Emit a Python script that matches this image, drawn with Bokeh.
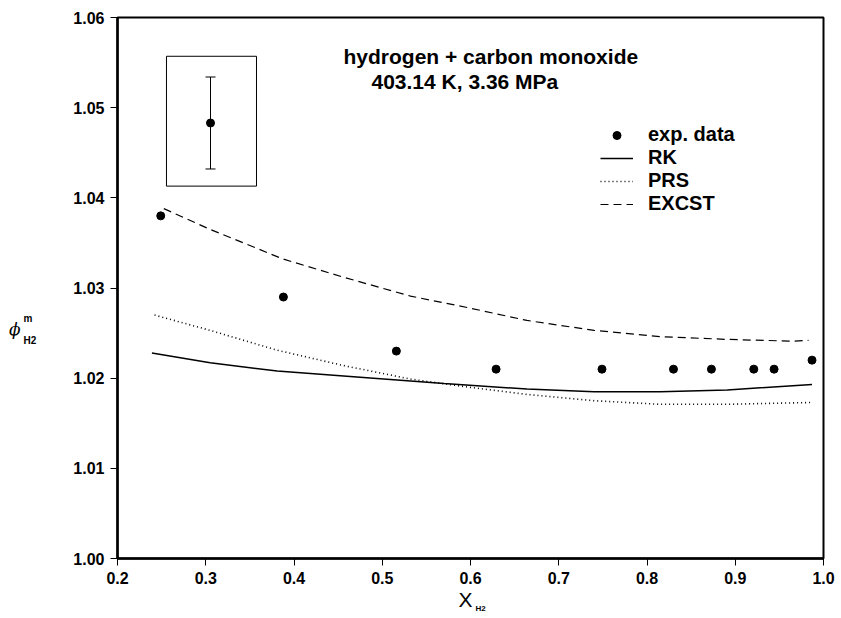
from bokeh.plotting import figure
from bokeh.models import (Range1d, FixedTicker, Label, Legend, LegendItem,
                          Whisker, TeeHead, ColumnDataSource)
from bokeh.embed import file_html
from bokeh.resources import INLINE

# ---- data -----------------------------------------------------------------
x_ticks = [0.2, 0.3, 0.4, 0.5, 0.6, 0.7, 0.8, 0.9, 1.0]
x_tick_labels = ["0.2", "0.3", "0.4", "0.5", "0.6", "0.7", "0.8", "0.9", "1.0"]
y_ticks = [1.00, 1.01, 1.02, 1.03, 1.04, 1.05, 1.06]
y_tick_labels = ["1.00", "1.01", "1.02", "1.03", "1.04", "1.05", "1.06"]

exp_x = [0.249, 0.388, 0.516, 0.629, 0.749, 0.830, 0.873, 0.921, 0.944, 0.987]
exp_y = [1.038, 1.029, 1.023, 1.021, 1.021, 1.021, 1.021, 1.021, 1.021, 1.022]

rk_x = [0.239, 0.305, 0.381, 0.475, 0.570, 0.664, 0.740, 0.815, 0.891, 0.987]
rk_y = [1.0228, 1.0217, 1.0208, 1.0201, 1.0194, 1.0188, 1.0185, 1.0185, 1.0187, 1.0193]

prs_x = [0.242, 0.305, 0.381, 0.456, 0.532, 0.598, 0.664, 0.740, 0.815, 0.891, 0.985]
prs_y = [1.0270, 1.0253, 1.0231, 1.0214, 1.0199, 1.0190, 1.0182, 1.0175, 1.0171, 1.0171, 1.0173]

excst_x = [0.2525, 0.305, 0.388, 0.456, 0.532, 0.598, 0.664, 0.740, 0.815, 0.891, 0.966, 0.983]
excst_y = [1.0388, 1.0365, 1.0332, 1.0312, 1.0291, 1.0278, 1.0264, 1.0253, 1.0246, 1.0243, 1.0241, 1.0242]

series_labels = ["exp. data", "RK", "PRS", "EXCST"]

# inset: typical experimental uncertainty
err_x = [0.3054]
err_center = [1.0483]
err_half = [0.0051]
inset_left, inset_right = 0.2555, 0.3575
inset_bottom, inset_top = 1.0413, 1.0557

title_line1 = "hydrogen + carbon monoxide"
title_line2 = "403.14 K,  3.36 MPa"

FONT = "Liberation Sans"

# ---- figure ---------------------------------------------------------------
p = figure(width=838, height=615, output_backend="svg", toolbar_location=None,
           x_range=Range1d(0.2, 1.0), y_range=Range1d(1.00, 1.06),
           min_border_left=117, min_border_right=15, min_border_top=17,
           min_border_bottom=57)
p.grid.visible = False
p.background_fill_color = "white"
p.border_fill_color = "white"
p.outline_line_color = "black"
p.outline_line_width = 2
p.outline_line_alpha = 1

for ax in (p.xaxis[0], p.yaxis[0]):
    ax.axis_line_color = "black"
    ax.axis_line_width = 2.5
    ax.major_tick_line_color = "black"
    ax.major_tick_line_width = 1
    ax.major_tick_in = 0
    ax.major_tick_out = 7
    ax.minor_tick_line_color = None
    ax.major_label_text_font = FONT
    ax.major_label_text_font_style = "bold"
    ax.major_label_text_font_size = "16px"
    ax.major_label_text_color = "black"

p.xaxis.ticker = FixedTicker(ticks=x_ticks)
p.xaxis.major_label_overrides = dict(zip(x_ticks, x_tick_labels))
p.xaxis.major_label_standoff = 6
p.yaxis.ticker = FixedTicker(ticks=y_ticks)
p.yaxis.major_label_overrides = dict(zip(y_ticks, y_tick_labels))
p.yaxis.major_label_standoff = 6

# ---- series -----------------------------------------------------------------
r_rk = p.line(rk_x, rk_y, line_color="black", line_width=1.5)
r_prs = p.line(prs_x, prs_y, line_color="black", line_width=1.6, line_dash="1 3")
r_ex = p.line(excst_x, excst_y, line_color="black", line_width=1.2, line_dash="8 5")
r_exp = p.scatter(exp_x, exp_y, size=8, fill_color="black", line_color="black")

legend = Legend(
    items=[LegendItem(label=series_labels[0], renderers=[r_exp]),
           LegendItem(label=series_labels[1], renderers=[r_rk]),
           LegendItem(label=series_labels[2], renderers=[r_prs]),
           LegendItem(label=series_labels[3], renderers=[r_ex])],
    location=(483, 343), orientation="vertical",
    border_line_color=None, background_fill_alpha=0,
    padding=0, margin=0, spacing=0,
    glyph_width=33, glyph_height=20, label_height=20, label_standoff=15,
    label_text_font=FONT, label_text_font_style="bold",
    label_text_font_size="20px", label_text_color="black")
p.add_layout(legend)

# ---- inset with error bar -----------------------------------------------------
p.quad(left=[inset_left], right=[inset_right], bottom=[inset_bottom], top=[inset_top],
       fill_color=None, line_color="black", line_width=1)
err_src = ColumnDataSource(dict(
    x=err_x,
    lo=[c - h for c, h in zip(err_center, err_half)],
    hi=[c + h for c, h in zip(err_center, err_half)]))
p.add_layout(Whisker(source=err_src, base="x", lower="lo", upper="hi",
                     line_color="black", line_width=1,
                     upper_head=TeeHead(size=10, line_color="black", line_width=1),
                     lower_head=TeeHead(size=10, line_color="black", line_width=1)))
p.scatter(err_x, err_center, size=8, fill_color="black", line_color="black")

# ---- texts ----------------------------------------------------------------------
p.add_layout(Label(x=0.4561, y=1.05573, text=title_line1, text_font=FONT,
                   text_font_style="bold", text_font_size="21px", text_color="black",
                   text_align="left", text_baseline="alphabetic"))
p.add_layout(Label(x=0.4878, y=1.05290, text=title_line2, text_font=FONT,
                   text_font_style="bold", text_font_size="21px", text_color="black",
                   text_align="left", text_baseline="alphabetic"))

# axis titles live in the left side panel so that they are not clipped to the frame
side_labels = [
    # y axis title: phi^m_H2
    Label(x=0.0770, y=1.0255, text="\u03d5", text_font="DejaVu Serif",
          text_font_style="italic", text_font_size="17px"),
    Label(x=0.0935, y=1.0266, text="m", text_font=FONT,
          text_font_style="bold", text_font_size="10px"),
    Label(x=0.0935, y=1.0242, text="H2", text_font=FONT,
          text_font_style="bold", text_font_size="10px"),
    # x axis title: X_H2
    Label(x=0.5864, y=0.99545, text="X", text_font=FONT, text_font_size="21px"),
    Label(x=0.6057, y=0.99440, text="H2", text_font=FONT,
          text_font_style="bold", text_font_size="8px"),
]
for lab in side_labels:
    lab.text_color = "black"
    lab.text_align = "left"
    lab.text_baseline = "alphabetic"
    p.add_layout(lab, "left")

open("out.html", "w").write(file_html(p, INLINE))
